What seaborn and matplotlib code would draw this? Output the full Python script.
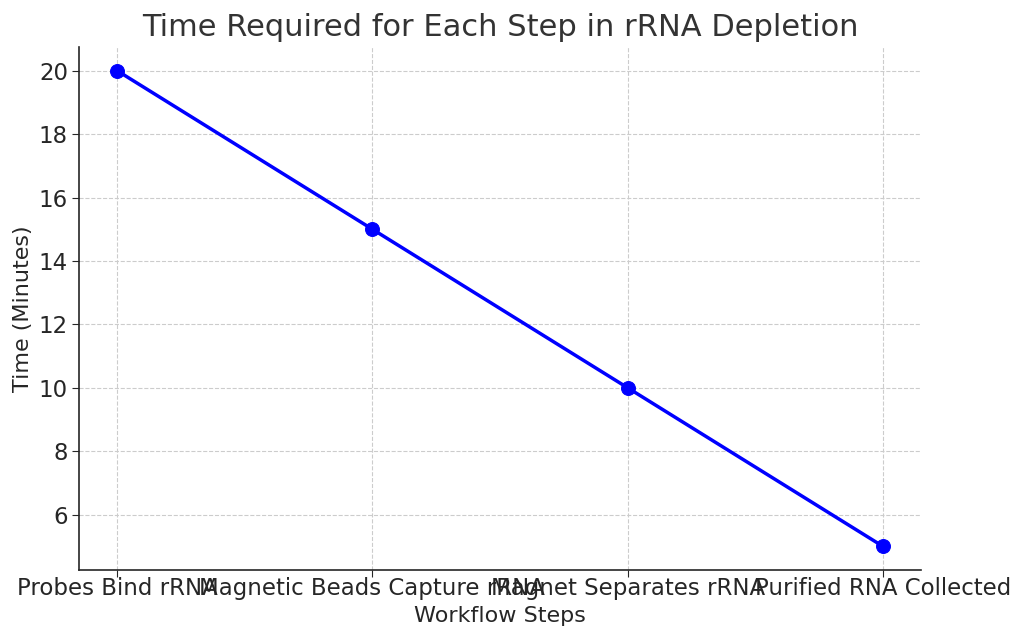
import matplotlib
matplotlib.use("Agg")
import matplotlib.pyplot as plt
import seaborn as sns
import pandas as pd

steps = ["Probes Bind rRNA", "Magnetic Beads Capture rRNA", "Magnet Separates rRNA", "Purified RNA Collected"]
times = [20, 15, 10, 5]

df = pd.DataFrame({"step": steps, "time": times})

sns.set_style("ticks")
plt.rcParams['font.family'] = ['DejaVu Sans']
text_color = "#262626"

fig = plt.figure(figsize=(10.24, 6.43), dpi=100)
ax = fig.add_axes([79/1024, 1 - 570/643, (921-79)/1024, (570-47)/643])

sns.lineplot(data=df, x="step", y="time", ax=ax, color="blue", linewidth=2.5,
             marker="o", markersize=10, markeredgecolor="blue", sort=False)

ax.grid(True, linestyle="--", color="#cccccc", linewidth=0.8)
ax.set_axisbelow(True)
sns.despine(ax=ax)
for s in ["left", "bottom"]:
    ax.spines[s].set_color(text_color)
    ax.spines[s].set_linewidth(1.2)
ax.tick_params(axis="both", labelsize=16.5, colors=text_color, length=5, pad=3)
ax.tick_params(axis="x", pad=0)
ax.set_xlabel("Workflow Steps", fontsize=16, color=text_color, labelpad=4)
ax.set_ylabel("Time (Minutes)", fontsize=16, color=text_color)
ax.set_title("Time Required for Each Step in rRNA Depletion", fontsize=22, color="#333333", pad=8)
ax.set_xlim(-0.15, 3.15)
ax.set_ylim(4.25, 20.75)

fig.savefig("out.png", dpi=100)
